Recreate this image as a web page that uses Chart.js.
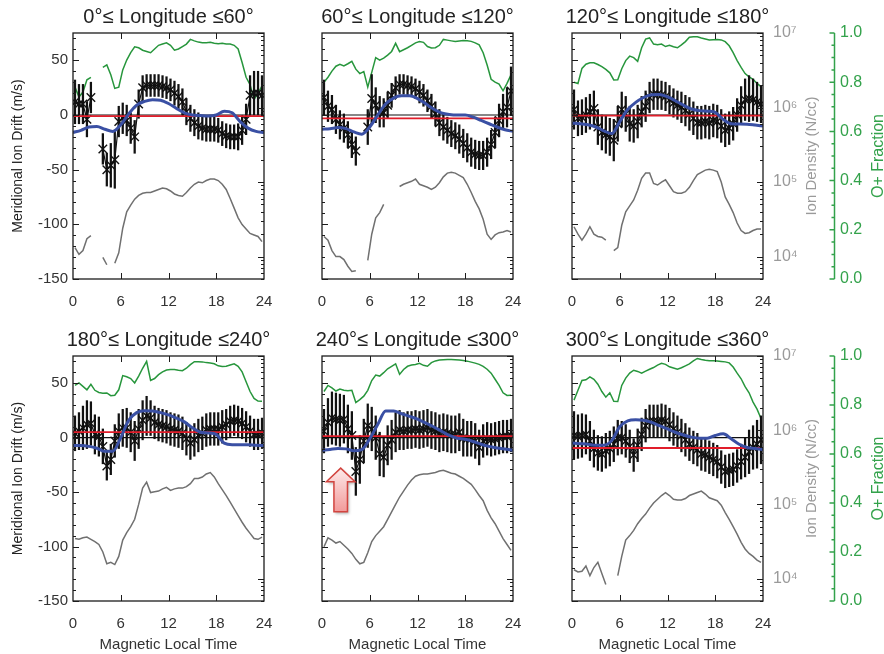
<!DOCTYPE html>
<html><head><meta charset="utf-8">
<script src="https://cdn.jsdelivr.net/npm/chart.js@4.4.1/dist/chart.umd.min.js"></script>
<style>
html,body{margin:0;padding:0;background:#fff;}
body{width:884px;height:654px;position:relative;overflow:hidden;}
canvas{position:absolute;}
</style></head><body>
<canvas id="c0"></canvas><canvas id="c1"></canvas><canvas id="c2"></canvas>
<canvas id="c3"></canvas><canvas id="c4"></canvas><canvas id="c5"></canvas>
<script>
// ---------- data ----------
const mlt = [0.25,0.75,1.25,1.75,2.25,2.75,3.25,3.75, 4.25,4.75,5.25,5.75,6.25,6.75,7.25,7.75,
  8.25,8.75,9.25,9.75,10.25,10.75,11.25,11.75, 12.25,12.75,13.25,13.75,14.25,14.75,15.25,15.75,
  16.25,16.75,17.25,17.75,18.25,18.75,19.25,19.75, 20.25,20.75,21.25,21.75,22.25,22.75,23.25,23.75];
const hours = [0,1,2,3,4,5,6,7,8,9,10,11,12,13,14,15,16,17,18,19,20,21,22,23,24];
const xTicks = [0,6,12,18,24];
const titles = ['0°≤ Longitude ≤60°','60°≤ Longitude ≤120°','120°≤ Longitude ≤180°',
  '180°≤ Longitude ≤240°','240°≤ Longitude ≤300°','300°≤ Longitude ≤360°'];

// meridional ion drift (m/s), black crosses
const drift1 = [12,10,10,-4,16,null,null,-31, -50,-46,-41,-6,-3,-5,-12,-20, 10,25,27,27,27,27,26,25, 23,20,17,12,3,-3,-7,-10, -12,-13,-13,-13,-14,-17,-19,-20, -20,-20,-14,-4,18,20,20,18];
const drift2 = [16,8,5,-4,-9,-12,-18,-27, -33,null,null,-11,15,9,3,2, 9,18,25,28,28,27,26,24, 21,18,13,8,1,-7,-11,-14, -17,-19,-22,-26,-30,-34,-36,-37, -37,-34,-27,-16,-5,3,7,22];
const drift3 = [5,-3,-2,0,3,6,-11,-16, -18,-20,-23,-8,5,1,-8,-10, -6,3,8,16,19,19,18,17, 14,11,9,7,4,1,-3,-7, -7,-6,-7,-5,-6,-10,-14,-12, -8,0,9,14,15,14,12,10];
const drift4 = [4,6,9,12,13,3,1,-8, -26,-20,-3,6,9,9,5,-3, 8,16,20,18,14,12,11,10, 8,7,6,4,-1,-5,-2,2, 4,7,8,8,8,10,12,15, 16,15,13,10,6,3,3,4];
const drift5 = [6,14,18,17,16,17,8,2, -31,-20,-3,11,8,0,-15,-18, -7,-2,5,7,6,7,7,8, 7,8,9,7,6,4,5,4, 3,3,5,0,-1,-1,-3,-9, -3,-1,-2,-1,0,1,1,2];
const drift6 = [2,1,2,3,-3,-10,-14,-15, -12,-10,-6,0,0,-3,-8,-16, -7,3,11,15,15,15,16,15, 12,8,5,2,-2,-6,-9,-11, -15,-16,-18,-20,-22,-27,-31,-30, -29,-26,-22,-18,-13,-9,-6,-2];

// half length of the error bars (m/s)
const err1 = [20,18,18,16,14,null,null,14, 15,20,26,14,14,14,14,15, 13,11,10,10,10,10,10,10, 10,11,11,12,12,12,12,12, 11,11,11,11,11,11,11,11, 11,12,13,14,18,20,20,18];
const err2 = [16,14,13,13,13,13,12,12, 13,null,null,16,22,16,14,13, 12,11,10,9,9,9,9,9, 10,10,10,11,11,12,12,12, 12,12,13,13,13,13,13,13, 13,13,13,14,15,16,18,22];
const err3 = [18,16,16,16,16,16,16,16, 17,17,19,16,16,16,16,15, 15,14,14,14,14,14,13,13, 13,13,13,14,14,15,15,15, 15,15,15,15,15,15,15,15, 15,15,17,19,21,19,18,17];
const err4 = [16,17,20,22,20,18,18,16, 13,14,15,16,17,18,18,18, 18,18,18,16,15,15,15,15, 15,15,15,15,15,15,15,15, 15,15,15,15,15,15,14,14, 14,14,14,14,14,14,14,14];
const err5 = [20,22,24,24,24,22,22,22, 22,22,20,20,20,20,20,18, 18,18,18,18,17,17,17,17, 17,17,17,17,17,17,17,17, 17,17,17,17,16,16,16,16, 15,15,15,15,15,15,15,15];
const err6 = [22,20,20,18,18,17,16,16, 16,16,16,16,15,15,15,15, 15,15,15,15,15,15,15,15, 15,15,15,15,15,15,15,15, 15,15,15,15,15,15,15,15, 15,15,16,18,20,20,22,22];

// model drift (m/s), blue curve, hourly
const model1 = [-16,-14,-11,-10.5,-13,-15,-9,1,9,12.5,14,13.5,10.5,6,2,0,-0.5,-1,0,3.5,2,-6,-12,-15,-16];
const model2 = [-13,-12.5,-11.5,-12.5,-15.5,-17.5,-11,0,10,15.5,17.5,17.5,15,10.5,5.5,2,0.5,0,0,-2,-5,-8,-11,-13.5,-15];
const model3 = [-7.5,-8,-9,-11,-14.5,-17,-6,5,11.5,16,18.5,18.8,16.5,13,9,5.5,4,3.5,2.5,-4,-8,-8.3,-8.5,-9.2,-10];
const model4 = [-7.3,-7.3,-8,-9.7,-12.5,-12.5,0,16,23,24.8,24.5,23,21,18,14.5,9,5,4.3,3,-5,-6.4,-6.4,-6.5,-7,-7.3];
const model5 = [-11.5,-10.8,-10,-10.3,-12,-11,-1,12,24.5,24.5,22,19.5,17,13.5,10,6,2,-0.5,-1.5,-3.5,-6,-8,-9.5,-10.5,-11.5];
const model6 = [-5,-5.5,-6,-7,-7,-2.5,10,15.5,16.5,16,14,11,8,5,2.5,0.5,-0.5,-0.5,2,3.5,-1,-6,-9,-10,-11];

// mean drift (m/s), red line
const meanDrift = [-1,-3,-0.5,5,1.5,-9.5];

// O+ fraction, green
const oFrac1 = [0.78,0.74,0.76,0.81,0.82,null,null,0.86, 0.87,0.83,0.775,0.78,0.85,0.89,0.92,0.944, 0.94,0.93,0.925,0.92,0.935,0.95,0.955,0.96, 0.95,0.93,0.935,0.945,0.955,0.974,0.968,0.963, 0.96,0.96,0.962,0.958,0.956,0.958,0.955,0.955, 0.95,0.935,0.88,0.82,0.79,0.73,0.755,0.785];
const oFrac2 = [0.80,0.82,0.845,0.865,0.873,0.866,0.875,0.885, 0.853,0.835,0.843,0.78,0.84,0.9,0.89,0.898, 0.91,0.925,0.958,0.924,0.932,0.94,0.95,0.96, 0.965,0.962,0.945,0.939,0.94,0.95,0.974,0.971, 0.968,0.965,0.967,0.969,0.968,0.966,0.96,0.952, 0.92,0.87,0.812,0.80,0.792,0.765,0.795,0.83];
const oFrac3 = [0.80,0.795,0.856,0.873,0.879,0.879,0.872,0.863, 0.852,0.838,0.809,0.81,0.855,0.888,0.906,0.9, 0.885,0.94,0.975,0.98,0.955,0.952,0.955,0.945, 0.95,0.944,0.94,0.952,0.965,0.983,0.985,0.985, 0.98,0.976,0.972,0.973,0.974,0.972,0.965,0.948, 0.92,0.888,0.86,0.835,0.822,0.812,0.795,0.782];
const oFrac4 = [0.88,0.89,0.876,0.862,0.884,0.86,0.851,0.848, 0.849,0.838,0.84,0.862,0.92,0.915,0.908,0.89, 0.918,0.95,0.978,0.9,0.908,0.924,0.935,0.943, 0.945,0.945,0.942,0.94,0.95,0.965,0.977,0.977, 0.976,0.973,0.971,0.968,0.96,0.957,0.958,0.963, 0.968,0.958,0.935,0.895,0.855,0.827,0.816,0.815];
const oFrac5 = [0.855,0.88,0.87,0.857,0.865,0.86,0.858,0.86, 0.81,0.822,0.836,0.86,0.9,0.922,0.918,0.932, 0.948,0.958,0.968,0.925,0.945,0.958,0.963,0.965, 0.97,0.962,0.958,0.973,0.98,0.984,0.985,0.986, 0.986,0.985,0.984,0.982,0.979,0.975,0.971,0.966, 0.958,0.946,0.93,0.905,0.88,0.85,0.839,0.84];
const oFrac6 = [0.82,0.86,0.9,0.903,0.915,0.905,0.885,0.855, 0.832,0.85,0.815,0.814,0.88,0.91,0.93,0.942, 0.937,0.93,0.938,0.946,0.953,0.963,0.97,0.966, 0.956,0.951,0.946,0.952,0.96,0.968,0.98,0.99, 0.986,0.983,0.981,0.981,0.98,0.978,0.976,0.972, 0.955,0.93,0.907,0.875,0.85,0.812,0.783,0.745];

// ion density, log10(N/cc), gray
const densLog1 = [4.12,4.03,4.08,4.24,4.28,null,null,3.99, 3.89,null,3.91,4.05,4.38,4.6,4.69,4.77, 4.82,4.85,4.86,4.86,4.88,4.9,4.92,4.91, 4.88,4.84,4.82,4.81,4.86,4.92,4.97,5.0, 4.99,5.02,5.04,5.04,5.02,4.97,4.9,4.78, 4.65,4.52,4.43,4.37,4.31,4.29,4.27,4.2];
const densLog2 = [4.27,4.22,4.08,4.0,4.0,3.96,3.87,3.8, 3.81,null,null,3.95,4.3,4.52,4.59,4.7, null,null,null,4.94,4.97,4.99,5.01,5.04, 4.97,4.95,4.93,4.9,4.93,4.99,5.07,5.12, 5.13,5.12,5.09,5.06,4.97,4.86,4.74,4.64, 4.5,4.3,4.23,4.29,4.32,4.33,4.35,4.33];
const densLog3 = [4.4,4.3,4.22,4.3,4.4,4.3,4.27,4.26, 4.22,null,4.08,4.12,4.42,4.6,4.68,4.76, 4.89,5.05,5.12,5.12,4.98,4.96,5.0,5.03, 4.95,4.87,4.85,4.85,4.87,4.93,5.02,5.1, 5.13,5.16,5.17,5.16,5.14,5.0,4.8,4.7, 4.59,4.45,4.35,4.31,4.32,4.35,4.37,4.37];
const densLog4 = [4.54,4.53,4.55,4.56,4.53,4.5,4.46,4.36, 4.2,4.22,4.19,4.3,4.52,4.62,4.7,4.8, 5.0,5.22,5.3,5.16,5.17,5.18,5.21,5.23, 5.19,5.21,5.22,5.22,5.24,5.28,5.35,5.35, 5.37,5.41,5.43,5.37,5.28,5.2,5.12,5.03, 4.94,4.85,4.76,4.68,4.61,4.54,4.53,4.56];
const densLog5 = [4.43,4.55,4.52,4.48,4.5,4.45,4.4,4.34, 4.26,4.2,4.22,4.35,4.5,4.58,4.64,4.7, 4.8,4.9,5.0,5.1,5.18,5.26,5.33,5.38, 5.4,5.41,5.41,5.42,5.43,5.45,5.46,5.44, 5.42,5.41,5.38,5.35,5.31,5.27,5.2,5.12, 5.05,4.92,4.82,4.74,4.64,4.54,4.46,4.38];
const densLog6 = [4.12,4.09,4.1,4.17,4.04,4.15,4.22,4.07, 3.92,null,null,4.04,4.3,4.52,4.58,4.65, 4.74,4.81,4.87,4.95,5.02,5.07,5.12,5.16, 5.12,5.07,5.06,5.06,5.08,5.12,5.14,5.16, 5.18,5.14,5.09,5.07,5.05,4.99,4.89,4.8, 4.7,4.6,4.49,4.4,4.34,4.3,4.25,4.22];

const driftSets = [drift1,drift2,drift3,drift4,drift5,drift6];
const errSets = [err1,err2,err3,err4,err5,err6];
const modelSets = [model1,model2,model3,model4,model5,model6];
const oFracSets = [oFrac1,oFrac2,oFrac3,oFrac4,oFrac5,oFrac6];
const densSets = [densLog1,densLog2,densLog3,densLog4,densLog5,densLog6];

// ---------- drawing ----------
const FONT = '"Liberation Sans", Arial, Helvetica, sans-serif';
Chart.defaults.font.family = FONT;
Chart.defaults.color = '#333';
const GREEN = '#27963c', GREEN_AX = '#33a24b', GRAY = '#707070', GRAY_AX = '#9a9a9a';
const BLUE = '#3a50a4', RED = '#e11d2a';
const SUP = {4:'⁴',5:'⁵',6:'⁶',7:'⁷'};

const decor = {
  id: 'decor',
  afterDatasetsDraw(chart) {
    const o = chart.options.plugins.decor;
    const {ctx, chartArea: a, scales} = chart;
    const sx = scales.x, sy = scales.y, sd = scales.yD, sg = scales.yG;
    ctx.save();
    ctx.strokeStyle = '#1c1c1c';
    ctx.lineWidth = 1.3;
    ctx.strokeRect(a.left, a.top, a.right - a.left, a.bottom - a.top);
    ctx.lineWidth = 1;
    ctx.beginPath();
    for (let v = -150; v <= 70; v += 10) {
      const p = Math.round(sy.getPixelForValue(v)) + 0.5;
      const L = v % 50 === 0 ? 6 : 3;
      ctx.moveTo(a.left, p); ctx.lineTo(a.left + L, p);
    }
    for (let k = 3; k <= 7; k++) {
      for (let m = 1; m <= 9; m++) {
        const v = m * Math.pow(10, k);
        if (v < 5000 || v > 1e7) continue;
        const p = Math.round(sd.getPixelForValue(v)) + 0.5;
        const L = m === 1 ? 6 : 3;
        ctx.moveTo(a.right, p); ctx.lineTo(a.right - L, p);
      }
    }
    for (const h of xTicks) {
      if (h === 0 || h === 24) continue;
      const p = Math.round(sx.getPixelForValue(h)) + 0.5;
      ctx.moveTo(p, a.top); ctx.lineTo(p, a.top + 6);
      ctx.moveTo(p, a.bottom); ctx.lineTo(p, a.bottom - 6);
    }
    ctx.stroke();
    // panel title
    ctx.fillStyle = '#222';
    ctx.font = '20px ' + FONT;
    ctx.textAlign = 'center';
    ctx.textBaseline = 'alphabetic';
    ctx.fillText(o.title, (a.left + a.right) / 2, a.top - 10);
    if (o.rightAxes) {
      // O+ fraction axis (ticks pointing left)
      const gx = Math.round(sg.left) + 0.5;
      ctx.strokeStyle = GREEN_AX;
      ctx.lineWidth = 1.5;
      ctx.beginPath();
      ctx.moveTo(gx, a.top); ctx.lineTo(gx, a.bottom);
      for (let i = 0; i <= 20; i++) {
        const v = i / 20;
        const p = sg.getPixelForValue(v);
        const L = i % 4 === 0 ? 5 : 3;
        ctx.moveTo(gx, p); ctx.lineTo(gx - L, p);
      }
      ctx.stroke();
      const my = (a.top + a.bottom) / 2;
      ctx.textBaseline = 'middle';
      ctx.save();
      ctx.translate(sd.left + 49, my);
      ctx.rotate(-Math.PI / 2);
      ctx.fillStyle = GRAY_AX;
      ctx.font = '15px ' + FONT;
      ctx.fillText('Ion Density (N/cc)', 0, 0);
      ctx.restore();
      ctx.save();
      ctx.translate(sg.left + 45, my);
      ctx.rotate(-Math.PI / 2);
      ctx.fillStyle = GREEN_AX;
      ctx.font = '16px ' + FONT;
      ctx.fillText('O+ Fraction', 0, 0);
      ctx.restore();
    }
    if (o.arrow) {
      const A = o.arrow;
      const X = v => sx.getPixelForValue(v), Y = v => sy.getPixelForValue(v);
      ctx.beginPath();
      ctx.moveTo(X(A.x), Y(A.tip));
      ctx.lineTo(X(A.x + A.head), Y(A.neck));
      ctx.lineTo(X(A.x + A.shaft), Y(A.neck));
      ctx.lineTo(X(A.x + A.shaft), Y(A.base));
      ctx.lineTo(X(A.x - A.shaft), Y(A.base));
      ctx.lineTo(X(A.x - A.shaft), Y(A.neck));
      ctx.lineTo(X(A.x - A.head), Y(A.neck));
      ctx.closePath();
      const g = ctx.createLinearGradient(0, Y(A.tip), 0, Y(A.base));
      g.addColorStop(0, '#fdeaea'); g.addColorStop(1, '#f29a9a');
      ctx.shadowColor = 'rgba(0,0,0,0.3)'; ctx.shadowBlur = 3; ctx.shadowOffsetX = 1.5; ctx.shadowOffsetY = 2;
      ctx.fillStyle = g; ctx.fill();
      ctx.shadowColor = 'transparent';
      ctx.strokeStyle = '#d2443f'; ctx.lineWidth = 1.5; ctx.stroke();
    }
    ctx.restore();
  }
};

const colLeft = [73, 322, 572];
const plotW = 191, plotH = [246, 245];
const canvasTop = [0, 323], canvasH = [320, 331];

function build(i) {
  const col = i % 3, row = Math.floor(i / 3);
  const cv = document.getElementById('c' + i);
  const left = colLeft[col] - 73;
  const W = col === 2 ? 884 - left : 73 + plotW + 50;
  const H = canvasH[row];
  cv.width = W; cv.height = H;
  cv.style.left = left + 'px'; cv.style.top = canvasTop[row] + 'px';
  const xh = H - 33 - plotH[row];
  const drift = driftSets[i], err = errSets[i];
  const pts = (arr, f) => mlt.map((x, k) => ({x, y: arr[k] == null ? null : (f ? f(arr[k]) : arr[k])}));
  const bars = [];
  mlt.forEach((x, k) => { if (drift[k] != null) bars.push({x, y: [drift[k] - err[k], drift[k] + err[k]]}); });
  const datasets = [
    {type:'line', label:'Ion density', data: pts(densSets[i], v => Math.pow(10, v)), yAxisID:'yD',
     borderColor: GRAY, borderWidth:1.5, pointRadius:0, spanGaps:false, order:7},
    {type:'line', label:'O+ fraction', data: pts(oFracSets[i]), yAxisID:'yG',
     borderColor: GREEN, borderWidth:1.5, pointRadius:0, spanGaps:false, order:6},
    {type:'line', label:'zero', data:[{x:0,y:0},{x:24,y:0}], yAxisID:'y',
     borderColor:'#111', borderWidth:1.2, pointRadius:0, order:5},
    {type:'bar', label:'error', data: bars, yAxisID:'y', backgroundColor:'#111',
     barThickness:1.6, borderWidth:0, grouped:false, order:4},
    {type:'line', label:'drift', data: pts(drift), yAxisID:'y', borderColor:'#111', borderWidth:1.2,
     pointStyle:'crossRot', pointRadius:6, pointBorderWidth:1.4, pointBorderColor:'#111',
     spanGaps:false, order:3},
    {type:'line', label:'mean', data:[{x:0,y:meanDrift[i]},{x:24,y:meanDrift[i]}], yAxisID:'y',
     borderColor: RED, borderWidth:1.8, pointRadius:0, order:2},
    {type:'line', label:'model', data: hours.map((x, k) => ({x, y: modelSets[i][k]})), yAxisID:'y',
     borderColor: BLUE, borderWidth:3, pointRadius:0, cubicInterpolationMode:'monotone', order:1}
  ];
  const right = col === 2;
  new Chart(cv, {
    type: 'line',
    data: {datasets},
    options: {
      responsive:false, animation:false, events:[], devicePixelRatio:1,
      layout:{padding:{top:33, left: col === 0 ? 0 : 73, right: right ? 0 : 50, bottom:0}},
      plugins:{legend:{display:false}, tooltip:{enabled:false},
        decor:{title: titles[i], rightAxes: right,
          arrow: i === 4 ? {x:2.35, tip:-28, neck:-40.5, base:-68, head:1.8, shaft:0.85} : null}},
      scales:{
        x:{type:'linear', min:0, max:24, offset:false, position:'bottom',
           grid:{display:false, drawTicks:false}, border:{display:false},
           ticks:{stepSize:6, padding:14, maxRotation:0, font:{size:15}, color:'#333'},
           title:{display: row === 1, text:'Magnetic Local Time', font:{size:15}, color:'#333', padding:{top:0,bottom:0}},
           afterFit: s => { s.height = xh; }},
        y:{type:'linear', min:-150, max:75, position:'left', display: col === 0,
           grid:{display:false, drawTicks:false}, border:{display:false},
           ticks:{stepSize:50, includeBounds:false, padding:5, font:{size:15}, color:'#333'},
           title:{display:true, text:'Meridional Ion Drift (m/s)', font:{size:14}, color:'#222', padding:{top:10,bottom:0}},
           afterFit: s => { if (col === 0) s.width = 73; }},
        yD:{type:'logarithmic', min:5000, max:1e7, position:'right', weight:1, display: right,
           grid:{display:false, drawTicks:false}, border:{display:false},
           ticks:{autoSkip:false, padding:10, color: GRAY_AX, font:{size:16},
             callback: v => { const e = Math.log10(v), r = Math.round(e); return Math.abs(e - r) < 1e-9 && SUP[r] ? '10' + SUP[r] : ''; }},
           afterFit: s => { if (right) s.width = 71; }},
        yG:{type:'linear', min:0, max:1, position:'right', weight:2, display: right,
           grid:{display:false, drawTicks:false}, border:{display:false},
           ticks:{stepSize:0.2, padding:6, color: GREEN_AX, font:{size:16}, callback: v => v.toFixed(1)},
           afterFit: s => { if (right) s.width = 884 - 834; }}
      }
    },
    plugins:[decor]
  });
}
for (let i = 0; i < 6; i++) build(i);
</script>
</body></html>
